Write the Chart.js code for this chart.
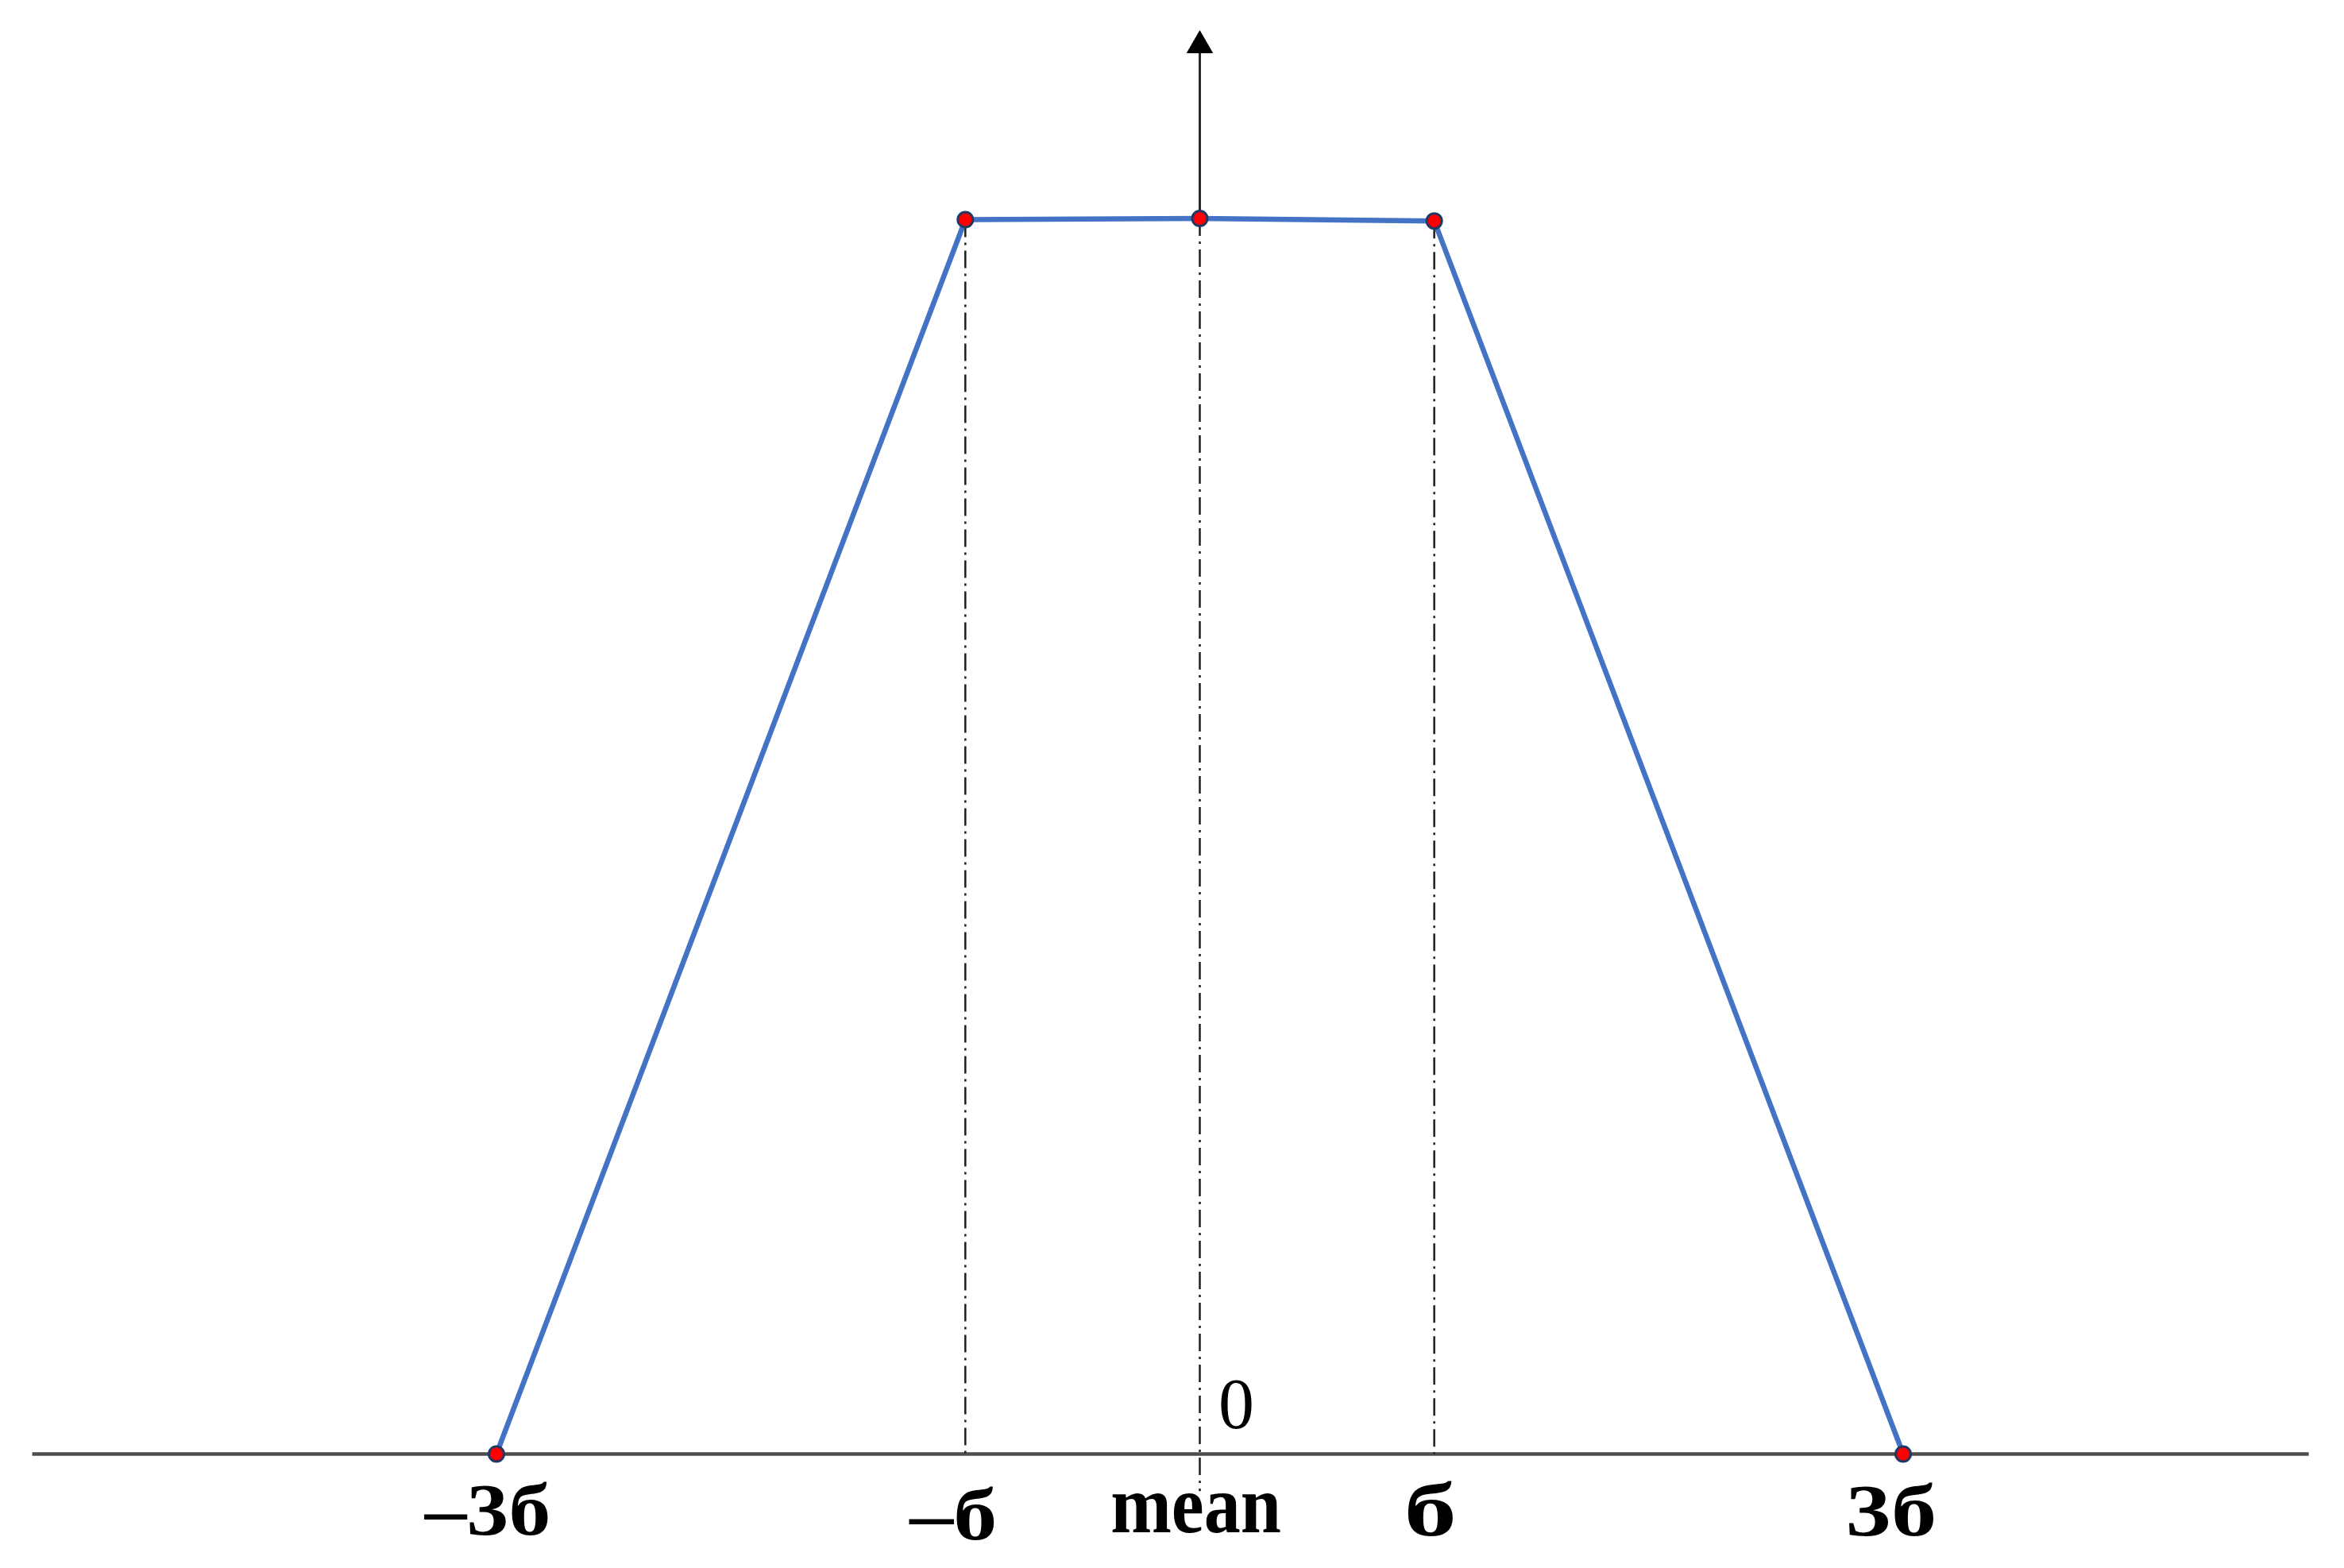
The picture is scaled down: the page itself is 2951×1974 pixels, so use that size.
<!DOCTYPE html>
<html><head><meta charset="utf-8">
<script src="https://cdn.jsdelivr.net/npm/chart.js@4/dist/chart.umd.min.js"></script>
<style>html,body{margin:0;padding:0;background:#fff;} #wrap{width:2951px;height:1974px;position:relative;}</style>
</head><body><div id="wrap"><canvas id="c"></canvas></div>
<script>
// ---- data ----
const categories = ['-3σ', '-σ', 'mean', 'σ', '3σ'];
const tickValues = [-3, -1, 0, 1, 3];
const tickLabels = ['–3б', '–б', 'mean', 'б', '3б'];
const curveY = [0, 0.999, 1, 0.998, 0];
const guideX = [-1, 0, 1];
const guideTop = [0.999, 1, 0.998];
const guideBottom = [0, -0.03, 0];
const axisExtent = [-4.98, 4.73];
const arrowY = [1, 1.14];
const originLabel = '0';

// ---- styles (not data) ----
const labelStyle = [
  {font: 'bold 88px "Liberation Serif"', dx: -11, dy: 101, sx: 1.2, sy: 1.05},
  {font: 'bold 88px "Liberation Serif"', dx: -15, dy: 107, sx: 1.25, sy: 1.05},
  {font: 'bold 92px "Liberation Serif"', dx: -5, dy: 98, sx: 1, sy: 1.12},
  {font: 'bold 88px "Liberation Serif"', dx: -5, dy: 102, sx: 1.5, sy: 1.08},
  {font: 'bold 88px "Liberation Serif"', dx: -15, dy: 102, sx: 1.3, sy: 1.05}
];

const datasets = [];
datasets.push({
  label: 'curve',
  data: tickValues.map((x, i) => ({x: x, y: curveY[i]})),
  showLine: true, borderColor: '#4472C4', borderWidth: 6.5,
  pointRadius: 9.5, pointBackgroundColor: '#FF0000', pointBorderColor: '#1F3864', pointBorderWidth: 3,
  order: 0, clip: false
});
datasets.push({
  label: 'arrow',
  data: [{x: 0, y: arrowY[0]}, {x: 0, y: arrowY[1]}],
  showLine: true, borderColor: '#2a2a2a', borderWidth: 3,
  pointRadius: [0, 18.5], pointStyle: 'triangle', pointBackgroundColor: '#000', pointBorderColor: '#000', pointBorderWidth: 1,
  order: 1, clip: false
});
guideX.forEach((gx, i) => {
  datasets.push({
    label: 'guide' + i,
    data: [{x: gx, y: guideTop[i]}, {x: gx, y: guideBottom[i]}],
    showLine: true, borderColor: '#1e1e1e', borderWidth: 2.5, borderDash: [22, 7, 3, 7],
    pointRadius: 0, order: 2, clip: false
  });
});
datasets.push({
  label: 'axis',
  data: [{x: axisExtent[0], y: 0}, {x: axisExtent[1], y: 0}],
  showLine: true, borderColor: '#4d4d4d', borderWidth: 4.5,
  pointRadius: 0, order: 3, clip: false
});

const labelPlugin = {
  id: 'labels',
  afterDraw(chart) {
    const ctx = chart.ctx;
    const xs = chart.scales.x, ys = chart.scales.y;
    const y0 = ys.getPixelForValue(0);
    ctx.save();
    ctx.fillStyle = '#000';
    ctx.textAlign = 'center';
    ctx.textBaseline = 'alphabetic';
    tickValues.forEach((v, i) => {
      const st = labelStyle[i];
      const px = xs.getPixelForValue(v) + st.dx;
      const py = y0 + st.dy;
      ctx.save();
      ctx.font = st.font;
      ctx.translate(px, py);
      ctx.scale(st.sx || 1, st.sy || 1);
      ctx.fillText(tickLabels[i], 0, 0);
      ctx.restore();
    });
    ctx.font = '90px "Liberation Serif"';
    ctx.fillText(originLabel, xs.getPixelForValue(0) + 46, y0 - 33);
    ctx.restore();
  }
};

new Chart(document.getElementById('c'), {
  type: 'scatter',
  data: {datasets: datasets},
  options: {
    responsive: true, maintainAspectRatio: false, animation: false,
    layout: {autoPadding: false, padding: {left: 34.65, right: 38.45, top: 10.6, bottom: 65.7}},
    plugins: {legend: {display: false}, tooltip: {enabled: false}},
    scales: {
      x: {type: 'linear', min: -5, max: 4.75, display: false},
      y: {type: 'linear', min: -0.05, max: 1.17, display: false}
    }
  },
  plugins: [labelPlugin]
});
</script>
</body></html>
